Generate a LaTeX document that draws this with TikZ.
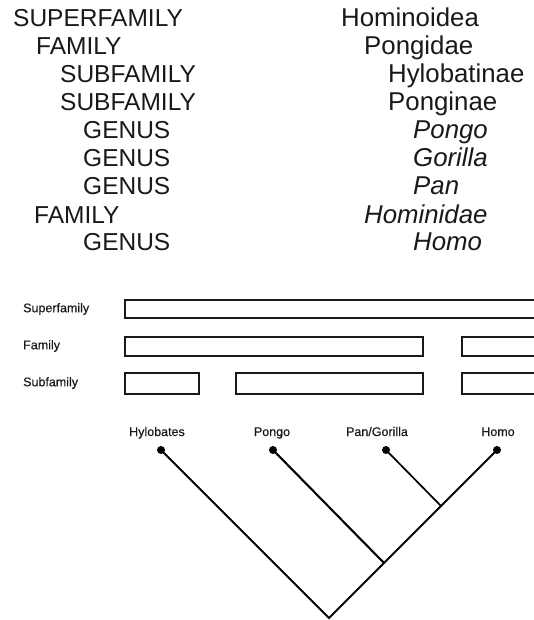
\documentclass[tikz,border=0pt]{standalone}
\usepackage{fontspec}
\setmainfont{Liberation Sans}
\newfontfamily\labelfont[FakeBold=0.4]{Liberation Sans}
\begin{document}
\begin{tikzpicture}[x=1pt,y=-1pt,
  rank/.style={anchor=base west,inner sep=0pt,font=\fontsize{24.5}{26}\selectfont,text=black!90},
  taxon/.style={anchor=base west,inner sep=0pt,font=\fontsize{25.8}{27}\selectfont,text=black!90},
  genusname/.style={taxon,font=\fontsize{25.8}{27}\selectfont\itshape},
  rowlabel/.style={anchor=west,inner sep=0pt,font=\labelfont\fontsize{12.5}{14}\selectfont,text=black!90},
  bar/.style={draw=black!90,line width=1.8pt},
  tip/.style={anchor=base,inner sep=0pt,font=\labelfont\fontsize{12.5}{14}\selectfont,text=black!90},
  leaf/.style={circle,fill=black,inner sep=0pt,minimum size=8pt},
  branch/.style={draw=black,line width=2.1pt},
  thinbranch/.style={draw=black,line width=1.7pt}]
\useasboundingbox (0,0) rectangle (534,620);

% classification list
\node[rank] (r1) at (13,27)  {SUPERFAMILY};
\node[rank] (r2) at (36,55)  {FAMILY};
\node[rank] (r3) at (60,83)  {SUBFAMILY};
\node[rank] (r4) at (60,111) {SUBFAMILY};
\node[rank] (r5) at (83,139) {GENUS};
\node[rank] (r6) at (83,167) {GENUS};
\node[rank] (r7) at (83,195) {GENUS};
\node[rank] (r8) at (34,223) {FAMILY};
\node[rank] (r9) at (83,250) {GENUS};

\node[taxon] (t1) at (341,27)  {Hominoidea};
\node[taxon] (t2) at (364,55)  {Pongidae};
\node[taxon] (t3) at (388,83)  {Hylobatinae};
\node[taxon] (t4) at (388,111) {Ponginae};
\node[genusname] (t5) at (413,139) {Pongo};
\node[genusname] (t6) at (413,167) {Gorilla};
\node[genusname] (t7) at (413,195) {Pan};
\node[genusname] (t8) at (364,223) {Hominidae};
\node[genusname] (t9) at (413,250) {Homo};

% grouping bars
\node[rowlabel] (lsuper) at (23,309) {Superfamily};
\node[rowlabel] (lfam)   at (23,346) {Family};
\node[rowlabel] (lsub)   at (23,383) {Subfamily};

\begin{scope}
\clip (0,0) rectangle (534,620);
\draw[bar] (125,300) rectangle (545,318);
\draw[bar] (125,337) rectangle (423,356);
\draw[bar] (462,337) rectangle (545,356);
\draw[bar] (125,373) rectangle (199,394);
\draw[bar] (236,373) rectangle (423,394);
\draw[bar] (462,373) rectangle (545,394);
\end{scope}

% cladogram
\node[tip] (nhylo)  at (157,436) {Hylobates};
\node[tip] (npongo) at (272,436) {Pongo};
\node[tip] (npan)   at (377,436) {Pan/Gorilla};
\node[tip] (nhomo)  at (498,436) {Homo};

\node[leaf] (dhylo)  at (161,450) {};
\node[leaf] (dpongo) at (273,450) {};
\node[leaf] (dpan)   at (386,450) {};
\node[leaf] (dhomo)  at (497,450) {};

\coordinate (root) at (329,618);
\coordinate (jpongo) at (384,563);
\coordinate (jpan) at (441,506);

\draw[branch,line cap=round] (dhylo.center) -- (root) -- (dhomo.center);
\draw[branch,line cap=round] (dpongo.center) -- (jpongo);
\draw[thinbranch,line cap=round] (dpan.center) -- (jpan);
\end{tikzpicture}
\end{document}
